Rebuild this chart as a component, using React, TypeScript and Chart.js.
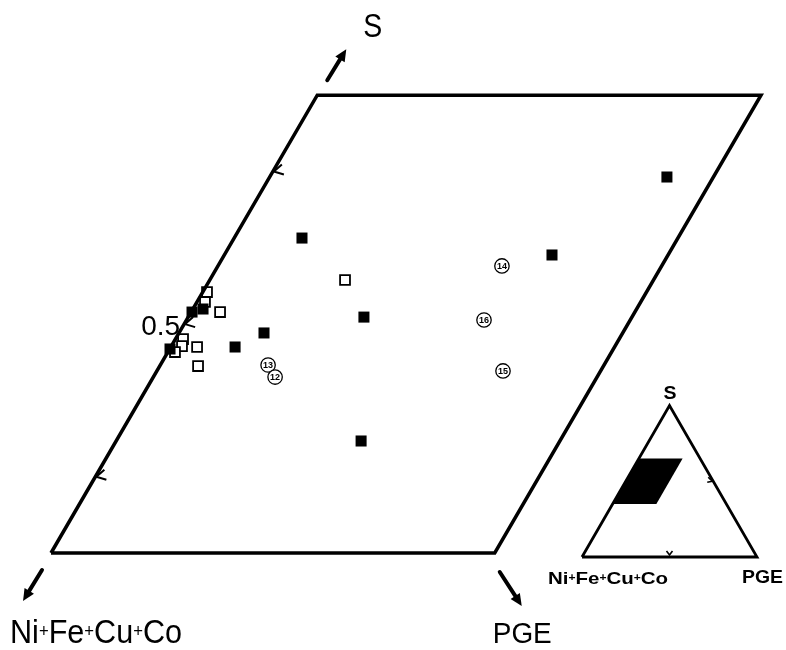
import React, { useEffect, useRef } from "react";
import { Chart, registerables } from "chart.js";

Chart.register(...registerables);

const H = Math.sqrt(3) / 2;

// Window of the ternary diagram that is enlarged (fractions)
const S_RANGE = [0.35, 0.65];
const PGE_RANGE = [0, 0.25];
const S_TICKS = [0.4, 0.5, 0.6];
const S_TICK_LABELS = ["", "0.5", ""];
const AXIS_LABELS = ["S", "Ni+Fe+Cu+Co", "PGE"];

// Filled squares
const FILLED_PGE = [0.2238, 0.0382, 0.1846, 0.099, 0.0479, 0.0362, 0.138, 0.0005, 0.0057, 0.0002];
const FILLED_S = [0.5964, 0.5564, 0.5453, 0.5046, 0.4942, 0.485, 0.4234, 0.5079, 0.5099, 0.4837];

// Open squares
const OPEN_PGE = [0.0762, 0.0024, 0.0045, 0.0163, 0.0043, 0.006, 0.0148, 0.004, 0.0216];
const OPEN_S = [0.5289, 0.521, 0.5145, 0.5079, 0.4902, 0.4856, 0.485, 0.4817, 0.4725];

// Numbered circles
const NUM_LABELS = ["13", "12", "14", "16", "15"];
const NUM_PGE = [0.0607, 0.0686, 0.16, 0.1676, 0.195];
const NUM_S = [0.4732, 0.4653, 0.5381, 0.5027, 0.4693];

// Inset triangle ticks (PGE, S)
const INSET_TICKS_PGE = [0.5, 0.5];
const INSET_TICKS_S = [0, 0.5];

const toXY = (pge: number, s: number) => ({ x: pge + s / 2, y: s * H });

const FONT = '"Liberation Sans", Arial, Helvetica, sans-serif';

function drawPlusText(
  ctx: CanvasRenderingContext2D,
  text: string,
  x: number,
  y: number,
  targetW: number,
  size: number,
  weight: string,
  plusScale: number
) {
  const parts = text.split(/(\+)/).filter((p) => p.length > 0);
  const fMain = `${weight} ${size}px ${FONT}`;
  const fPlus = `${weight} ${Math.round(size * plusScale)}px ${FONT}`;
  let w = 0;
  const widths = parts.map((p) => {
    ctx.font = p === "+" ? fPlus : fMain;
    const m = ctx.measureText(p).width;
    w += m;
    return m;
  });
  ctx.save();
  ctx.translate(x, y);
  ctx.scale(targetW / w, 1);
  ctx.textAlign = "left";
  ctx.textBaseline = "alphabetic";
  let cx = 0;
  parts.forEach((p, i) => {
    ctx.font = p === "+" ? fPlus : fMain;
    ctx.fillText(p, cx, p === "+" ? -size * 0.17 : 0);
    cx += widths[i];
  });
  ctx.restore();
}

function arrow(ctx: CanvasRenderingContext2D, x1: number, y1: number, x2: number, y2: number) {
  const a = Math.atan2(y2 - y1, x2 - x1);
  const hl = 12;
  const hw = 5.5;
  ctx.lineWidth = 4;
  ctx.lineCap = "round";
  ctx.beginPath();
  ctx.moveTo(x1, y1);
  ctx.lineTo(x2 - Math.cos(a) * hl * 0.6, y2 - Math.sin(a) * hl * 0.6);
  ctx.stroke();
  ctx.beginPath();
  ctx.moveTo(x2, y2);
  ctx.lineTo(x2 - Math.cos(a) * hl - Math.sin(a) * hw, y2 - Math.sin(a) * hl + Math.cos(a) * hw);
  ctx.lineTo(x2 - Math.cos(a) * hl + Math.sin(a) * hw, y2 - Math.sin(a) * hl - Math.cos(a) * hw);
  ctx.closePath();
  ctx.fill();
}

const mainDecor = {
  id: "mainDecor",
  afterDatasetsDraw(chart: any) {
    const { ctx } = chart;
    const sx = chart.scales.x;
    const sy = chart.scales.y;
    const P = (pge: number, s: number) => {
      const c = toXY(pge, s);
      return [sx.getPixelForValue(c.x), sy.getPixelForValue(c.y)];
    };
    ctx.save();
    ctx.strokeStyle = "#000";
    ctx.fillStyle = "#000";

    // ticks on the left edge
    S_TICKS.forEach((s, i) => {
      const [px, py] = P(PGE_RANGE[0], s);
      ctx.lineWidth = 2;
      ctx.lineCap = "butt";
      ctx.beginPath();
      ctx.moveTo(px + 9, py - 7);
      ctx.lineTo(px + 1, py);
      ctx.lineTo(px + 11, py + 3);
      ctx.stroke();
      if (S_TICK_LABELS[i]) {
        ctx.font = `28px ${FONT}`;
        ctx.textAlign = "right";
        ctx.textBaseline = "alphabetic";
        ctx.fillText(S_TICK_LABELS[i], px - 4, py + 11);
      }
    });

    // numbers inside circles
    const meta = chart.getDatasetMeta(3);
    ctx.font = `bold 9px ${FONT}`;
    ctx.textAlign = "center";
    ctx.textBaseline = "middle";
    meta.data.forEach((el: any, i: number) => {
      ctx.fillText(NUM_LABELS[i], el.x, el.y + 0.5);
    });

    // axis labels and arrows
    const [tlx, tly] = P(PGE_RANGE[0], S_RANGE[1]);
    const [blx, bly] = P(PGE_RANGE[0], S_RANGE[0]);
    const [brx, bry] = P(PGE_RANGE[1], S_RANGE[0]);

    arrow(ctx, tlx + 10, tly - 15, tlx + 29, tly - 46);
    drawPlusText(ctx, AXIS_LABELS[0], tlx + 46, tly - 58, 19, 33, "normal", 1);

    arrow(ctx, blx - 9, bly + 17, blx - 28, bly + 48);
    drawPlusText(ctx, AXIS_LABELS[1], blx - 41, bly + 90, 172, 33, "normal", 0.55);

    arrow(ctx, brx + 5, bry + 19, brx + 27, bry + 53);
    drawPlusText(ctx, AXIS_LABELS[2], brx - 2, bry + 90, 59, 30, "normal", 1);

    ctx.restore();
  },
};

const insetDecor = {
  id: "insetDecor",
  beforeDatasetsDraw(chart: any) {
    const { ctx } = chart;
    const sx = chart.scales.x;
    const sy = chart.scales.y;
    const P = (pge: number, s: number) => {
      const c = toXY(pge, s);
      return [sx.getPixelForValue(c.x), sy.getPixelForValue(c.y)];
    };
    const corners = [
      P(PGE_RANGE[0], S_RANGE[0]),
      P(PGE_RANGE[1], S_RANGE[0]),
      P(PGE_RANGE[1], S_RANGE[1]),
      P(PGE_RANGE[0], S_RANGE[1]),
    ];
    ctx.save();
    ctx.fillStyle = "#000";
    ctx.beginPath();
    corners.forEach(([x, y], i) => (i ? ctx.lineTo(x, y) : ctx.moveTo(x, y)));
    ctx.closePath();
    ctx.fill();
    ctx.restore();
  },
  afterDatasetsDraw(chart: any) {
    const { ctx } = chart;
    const sx = chart.scales.x;
    const sy = chart.scales.y;
    const P = (pge: number, s: number) => {
      const c = toXY(pge, s);
      return [sx.getPixelForValue(c.x), sy.getPixelForValue(c.y)];
    };
    ctx.save();
    ctx.strokeStyle = "#000";
    ctx.fillStyle = "#000";
    ctx.lineWidth = 1.6;
    // base tick (v)
    {
      const [px, py] = P(INSET_TICKS_PGE[0], INSET_TICKS_S[0]);
      ctx.beginPath();
      ctx.moveTo(px - 3, py - 6);
      ctx.lineTo(px, py - 2);
      ctx.lineTo(px + 3, py - 6);
      ctx.stroke();
    }
    // right side tick
    {
      const [px, py] = P(INSET_TICKS_PGE[1], INSET_TICKS_S[1]);
      ctx.beginPath();
      ctx.moveTo(px - 5, py - 4);
      ctx.lineTo(px - 1, py);
      ctx.lineTo(px - 6, py + 1);
      ctx.stroke();
    }
    const [ax, ay] = P(0, 1);
    const [lx, ly] = P(0, 0);
    const [rx, ry] = P(1, 0);
    drawPlusText(ctx, AXIS_LABELS[0], ax - 6, ay - 6, 13, 18, "bold", 1);
    drawPlusText(ctx, AXIS_LABELS[1], lx - 34, ly + 27, 120, 17, "bold", 0.6);
    drawPlusText(ctx, AXIS_LABELS[2], rx - 15, ry + 26, 41, 18, "bold", 1);
    ctx.restore();
  },
};

function pts(pge: number[], s: number[]) {
  return pge.map((p, i) => toXY(p, s[i]));
}

const INSET_LEFT = 530;
const INSET_TOP = 380;
const INSET_W = 786 - INSET_LEFT;
const INSET_H = 220;

export default function App() {
  const mainRef = useRef<HTMLCanvasElement>(null);
  const insetRef = useRef<HTMLCanvasElement>(null);

  useEffect(() => {
    const outline = [
      toXY(PGE_RANGE[0], S_RANGE[0]),
      toXY(PGE_RANGE[1], S_RANGE[0]),
      toXY(PGE_RANGE[1], S_RANGE[1]),
      toXY(PGE_RANGE[0], S_RANGE[1]),
      toXY(PGE_RANGE[0], S_RANGE[0]),
    ];
    const kx = 1775;
    const ky = 1762;
    const xmin = 0.175 - 51 / kx;
    const ymax = S_RANGE[0] * H + 553 / ky;

    const main = new Chart(mainRef.current!, {
      type: "scatter",
      data: {
        datasets: [
          {
            data: outline,
            showLine: true,
            borderColor: "#000",
            borderWidth: 3.5,
            pointRadius: 0,
            borderJoinStyle: "miter",
            clip: false,
          } as any,
          {
            data: pts(FILLED_PGE, FILLED_S),
            pointStyle: "rect",
            pointRadius: 7.8,
            backgroundColor: "#000",
            borderColor: "#000",
            borderWidth: 0,
          },
          {
            data: pts(OPEN_PGE, OPEN_S),
            pointStyle: "rect",
            pointRadius: 7,
            backgroundColor: "#fff",
            borderColor: "#000",
            borderWidth: 1.8,
          },
          {
            data: pts(NUM_PGE, NUM_S),
            pointStyle: "circle",
            pointRadius: 7.2,
            backgroundColor: "#fff",
            borderColor: "#000",
            borderWidth: 1.3,
          },
        ],
      },
      options: {
        animation: false,
        responsive: false,
        devicePixelRatio: 1,
        layout: { padding: 0, autoPadding: false },
        plugins: { legend: { display: false }, tooltip: { enabled: false } },
        scales: {
          x: { type: "linear", display: false, min: xmin, max: xmin + 786 / kx },
          y: { type: "linear", display: false, min: ymax - 650 / ky, max: ymax },
        },
      } as any,
      plugins: [mainDecor],
    });

    // inset
    const side = 175;
    const ixmin = -(582 - INSET_LEFT) / side;
    const iymax = (557 - INSET_TOP) / side;
    const tri = [toXY(0, 0), toXY(1, 0), toXY(0, 1), toXY(0, 0)];
    const inset = new Chart(insetRef.current!, {
      type: "scatter",
      data: {
        datasets: [
          {
            data: tri,
            showLine: true,
            borderColor: "#000",
            borderWidth: 2.8,
            pointRadius: 0,
            borderJoinStyle: "miter",
            clip: false,
          } as any,
        ],
      },
      options: {
        animation: false,
        responsive: false,
        devicePixelRatio: 1,
        layout: { padding: 0, autoPadding: false },
        plugins: { legend: { display: false }, tooltip: { enabled: false } },
        scales: {
          x: { type: "linear", display: false, min: ixmin, max: ixmin + INSET_W / side },
          y: { type: "linear", display: false, min: iymax - INSET_H / side, max: iymax },
        },
      } as any,
      plugins: [insetDecor],
    });

    return () => {
      main.destroy();
      inset.destroy();
    };
  }, []);

  return (
    <div style={{ position: "absolute", left: 0, top: 0, width: 786, height: 650, background: "#fff" }}>
      <canvas ref={mainRef} width={786} height={650} style={{ position: "absolute", left: 0, top: 0 }} />
      <canvas
        ref={insetRef}
        width={INSET_W}
        height={INSET_H}
        style={{ position: "absolute", left: INSET_LEFT, top: INSET_TOP }}
      />
    </div>
  );
}
